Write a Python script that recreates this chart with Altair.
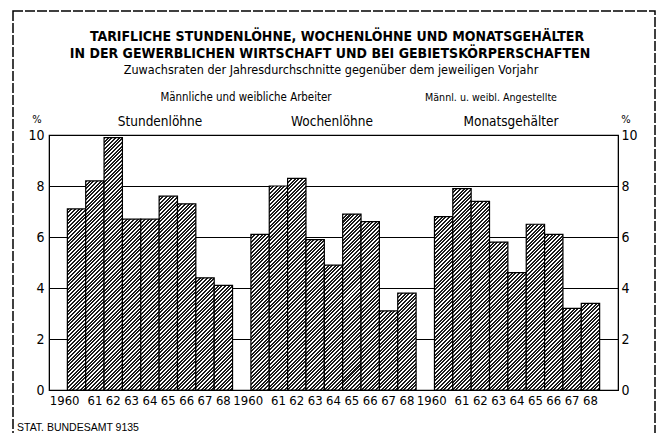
import altair as alt
import pandas as pd

# ---- data -------------------------------------------------------------
years = ["1960", "61", "62", "63", "64", "65", "66", "67", "68"]
groups = ["Stundenlöhne", "Wochenlöhne", "Monatsgehälter"]
stunden = [7.1, 8.2, 9.9, 6.7, 6.7, 7.6, 7.3, 4.4, 4.1]
wochen = [6.1, 8.0, 8.3, 5.9, 4.9, 6.9, 6.6, 3.1, 3.8]
monat = [6.8, 7.9, 7.4, 5.8, 4.6, 6.5, 6.1, 3.2, 3.4]
y_ticks = [0, 2, 4, 6, 8, 10]

# ---- layout -----------------------------------------------------------
W, H = 569, 255          # plot area
X0, Y0 = 49, 135         # plot origin on the page
FONT = "DejaVu Sans Condensed, sans-serif"
FONT2 = "Liberation Sans, DejaVu Sans, sans-serif"

rows = []
domain = ["gap0"]
for gi, (g, vals) in enumerate(zip(groups, [stunden, wochen, monat])):
    for yr, v in zip(years, vals):
        key = f"{gi}|{yr}"
        rows.append({"key": key, "group": g, "year": yr, "v": v})
        domain.append(key)
    domain.append(f"gap{gi + 1}")
df = pd.DataFrame(rows)

# ---- hatch fill as a striped linear gradient (45 deg in screen space) --
bw = W / len(domain)
k = H / 10
D, P, r = 280.0, 3.6, 0.55
N = int(D / P)
stops = []
for i in range(N):
    a, b, c = i / N, (i + r) / N, (i + 1) / N
    stops += [
        f"{{offset:{a:.5f},color:'#1c1c1c'}}",
        f"{{offset:{b:.5f},color:'#1c1c1c'}}",
        f"{{offset:{b:.5f},color:'#ffffff'}}",
        f"{{offset:{c:.5f},color:'#ffffff'}}",
    ]
stops_str = "[" + ",".join(stops) + "]"
hden = f"({bw:.4f}*{bw:.4f}+pow(datum.v*{k},2))"
grad_expr = (
    "{gradient:'linear',x1:0,y1:0,"
    f"x2:{D}*{bw:.4f}/{hden},"
    f"y2:{D}*datum.v*{k}/{hden},"
    f"stops:{stops_str}}}"
)

xscale = alt.Scale(domain=domain, paddingInner=0, paddingOuter=0)
yscale = alt.Scale(domain=[0, 10], nice=False)
is_first = "indexof(datum.value, '|1960') > 0"

bars = (
    alt.Chart(df)
    .transform_calculate(grad=grad_expr)
    .mark_bar(stroke="black", strokeWidth=1.2)
    .encode(
        x=alt.X(
            "key:N",
            scale=xscale,
            title=None,
            axis=alt.Axis(
                labelExpr="indexof(datum.value, 'gap') == 0 ? '' : split(datum.value, '|')[1]",
                labelAlign=alt.condition(is_first, alt.value("right"), alt.value("center")),
                labelOffset=alt.condition(is_first, alt.value(3), alt.value(0)),
                labelAngle=0,
                labelPadding=4,
                labelOverlap=False,
                labelBound=False,
                ticks=False,
                tickSize=0,
                domain=False,
                labelFontSize=13,
            ),
        ),
        y=alt.Y(
            "v:Q",
            scale=yscale,
            title=None,
            axis=alt.Axis(
                orient="left",
                values=y_ticks,
                grid=True,
                gridColor="black",
                gridWidth=1,
                gridOpacity=1,
                ticks=False,
                tickSize=0,
                domain=True,
                domainColor="black",
                labelPadding=5,
                labelFontSize=14,
            ),
        ),
        fill=alt.Fill("grad:N", scale=None),
    )
)

right_axis = (
    alt.Chart(df)
    .mark_bar(opacity=0)
    .encode(
        x=alt.X("key:N", scale=xscale, axis=None),
        y=alt.Y(
            "v:Q",
            scale=yscale,
            title=None,
            axis=alt.Axis(
                orient="right",
                values=y_ticks,
                grid=False,
                ticks=False,
                tickSize=0,
                domain=True,
                domainColor="black",
                labelPadding=3,
                labelFontSize=14,
            ),
        ),
    )
)


def label(text, x, y, size, weight="normal", align="center", baseline="middle", font=FONT):
    return (
        alt.Chart(alt.Data(values=[{}]))
        .mark_text(
            text=text,
            font=font,
            fontSize=size,
            fontWeight=weight,
            align=align,
            baseline=baseline,
            color="black",
        )
        .encode(x=alt.value(x - X0), y=alt.value(y - Y0))
    )


frame = (
    alt.Chart(alt.Data(values=[{}]))
    .mark_rect(filled=False, stroke="black", strokeWidth=1.5, strokeDash=[10, 2])
    .encode(
        x=alt.value(13 - X0),
        x2=alt.value(655 - X0),
        y=alt.value(11 - Y0),
        y2=alt.value(460 - Y0),
    )
)

texts = [
    label("TARIFLICHE STUNDENLÖHNE, WOCHENLÖHNE UND MONATSGEHÄLTER", 337, 37, 14, "bold"),
    label("IN DER GEWERBLICHEN WIRTSCHAFT UND BEI GEBIETSKÖRPERSCHAFTEN", 330, 54, 14, "bold"),
    label("Zuwachsraten der Jahresdurchschnitte gegenüber dem jeweiligen Vorjahr", 331, 70, 12.5),
    label("Männliche und weibliche Arbeiter", 246, 98, 11.4),
    label("Männl. u. weibl. Angestellte", 491, 98, 10.6),
    label(groups[0], 160, 122, 13.5),
    label(groups[1], 332, 122, 13.5),
    label(groups[2], 511, 122, 13.5),
    label("%", 37, 120, 11),
    label("%", 626, 120, 11),
    label("STAT. BUNDESAMT 9135", 17, 431, 10.5, align="left", baseline="alphabetic", font=FONT2),
]

chart = (
    alt.layer(frame, bars, right_axis, *texts)
    .resolve_axis(x="independent", y="independent")
    .properties(
        width=W,
        height=H,
        autosize=alt.AutoSizeParams(type="none"),
        padding={"left": X0 - 8, "top": Y0 - 8, "right": 39, "bottom": 43},
        background="white",
    )
    .configure_view(stroke="black", strokeWidth=1.2)
    .configure_axis(labelColor="black", labelFont=FONT)
)

chart.save("out.html", embed_options={"renderer": "svg", "actions": False})
